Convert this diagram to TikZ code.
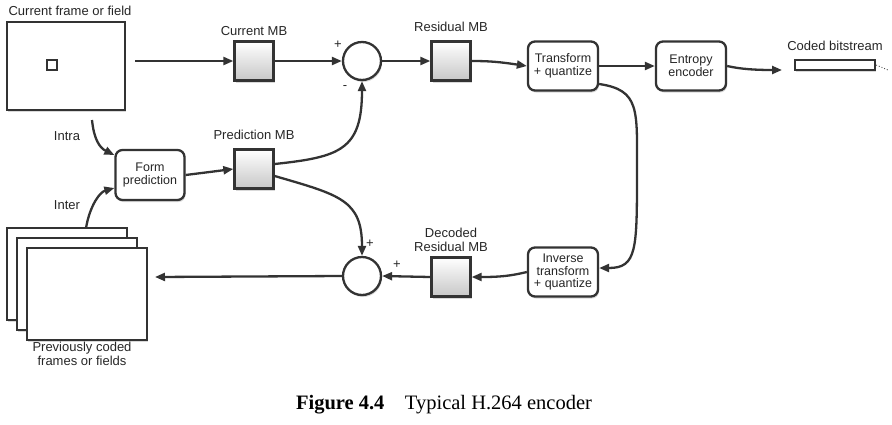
\documentclass[tikz,border=0pt]{standalone}
\usepackage{fontspec}
\setmainfont{Liberation Sans}
\newfontfamily\capfont{Liberation Serif}
\usetikzlibrary{arrows.meta,shadows,calc}
\begin{document}
\begin{tikzpicture}[x=1pt,y=-1pt,
  every node/.style={font=\fontsize{13}{13.5}\selectfont, text=black!85},
  ln/.style={line width=2.3pt, draw=black!80},
  arr/.style={ln,-{Triangle[length=10pt,width=8pt]}},
  sh/.style={drop shadow={shadow xshift=1pt,shadow yshift=-2pt,opacity=0.3}},
  mb/.style={ln,sh,minimum size=39pt,inner sep=0,top color=white,bottom color=black!22},
  proc/.style={ln,sh,fill=white,rounded corners=7pt,minimum width=70pt,minimum height=49pt,align=center,inner sep=1pt,font=\fontsize{12.5}{12.5}\selectfont},
  sum/.style={ln,sh,fill=white,circle,minimum size=38pt,inner sep=0},
  frm/.style={ln,sh,fill=white,rectangle,inner sep=0}]
\useasboundingbox (0,0) rectangle (892,424);
\node[frm,minimum width=118pt,minimum height=88pt] (cf) at (66,66) {};
\node[draw=black!80,line width=2.4pt,minimum size=10pt,inner sep=0] (mbsmall) at (52,65) {};
\node (cfl) at (70,11) {Current frame or field};
\node[mb] (cmb) at (254,61) {};
\node at (254,31) {Current MB};
\node[sum] (s1) at (362,61) {};
\node at (338,45) {+};
\node at (345,88) {-};
\node[mb] (rmb) at (451,61) {};
\node at (451,27) {Residual MB};
\node[proc] (tq) at (563,66) {Transform\\+ quantize};
\node[proc] (ent) at (691,66) {Entropy\\encoder};
\node[frm,minimum width=80pt,minimum height=10pt] (bs) at (835,65) {};
\node at (835,46) {Coded bitstream};
\draw[dotted,line width=0.9pt,draw=black!70] (bs.east) -- (888,70);
\node[proc,minimum width=69pt,minimum height=50pt] (fp) at (150,175) {Form\\prediction};
\node[mb] (pmb) at (254,169) {};
\node at (254,135) {Prediction MB};
\node[sum] (s2) at (362,276) {};
\node at (370,244) {+};
\node at (397,265) {+};
\node[mb] (dmb) at (451,277) {};
\node[align=center] at (451,240) {Decoded\\Residual MB};
\node[proc] (it) at (563,272) {Inverse\\transform\\+ quantize};
\node[frm,minimum width=120pt,minimum height=92pt] (f1) at (67,274) {};
\node[frm,minimum width=120pt,minimum height=92pt] (f2) at (77,284) {};
\node[frm,minimum width=120pt,minimum height=92pt] (f3) at (87,294) {};
\node[align=center] at (82,354) {Previously coded\\frames or fields};
\node at (67,136) {Intra};
\node at (67,205) {Inter};
\coordinate (a0) at (135,61);
\coordinate (ie) at (92,120);
\coordinate (xe) at (86,228);
\coordinate (bse) at (782,70);
\coordinate (out) at (155,277);
\draw[arr] (a0) -- (cmb.west);
\draw[arr] (cmb.east) -- (s1.west);
\draw[arr] (s1.east) -- (rmb.west);
\draw[arr] (rmb.east) .. controls (490,61) and (500,62) .. (tq.west);
\draw[arr] (tq.east) -- (ent.west);
\draw[arr] (ent.east) .. controls (740,69) and (755,70) .. (bse);
\draw[arr] ($(tq.east)+(0,18)$) .. controls (640,90) and (637,110) .. (637,170) .. controls (637,250) and (637,268) .. ($(it.east)+(0,-4)$);
\draw[arr] (it.west) .. controls (510,276) and (500,277) .. (dmb.east);
\draw[arr] (dmb.west) -- (s2.east);
\draw[arr] (s2.west) -- (out);
\draw[arr] ($(pmb.east)+(0,-5)$) .. controls (340,157) and (362,150) .. (s1.south);
\draw[arr] ($(pmb.east)+(0,7)$) .. controls (340,195) and (362,200) .. (s2.north);
\draw[arr] (ie) .. controls (94,140) and (100,148) .. ($(fp.west)+(0,-20)$);
\draw[arr] (xe) .. controls (90,205) and (100,192) .. ($(fp.west)+(0,13)$);
\draw[arr] (fp.east) -- (pmb.west);
\node[font=\capfont\fontsize{20.5}{22}\selectfont, text=black] at (444,405) {\textbf{Figure 4.4}\quad Typical H.264 encoder};
\end{tikzpicture}
\end{document}
